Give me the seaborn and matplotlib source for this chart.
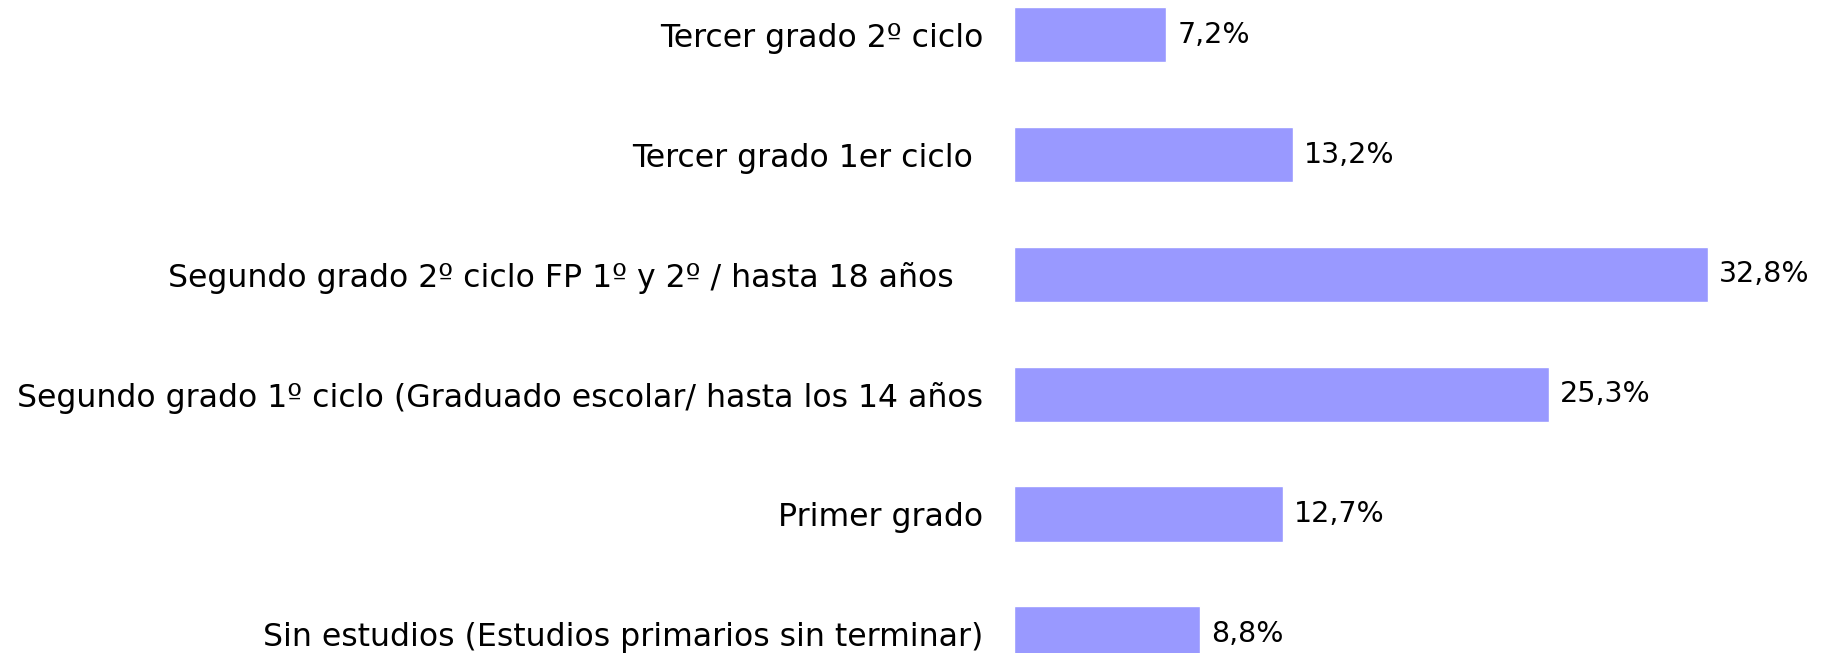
import matplotlib
matplotlib.use("Agg")
import matplotlib.pyplot as plt
import seaborn as sns
import pandas as pd

# datos (de arriba a abajo)
categorias = [
    "Tercer grado 2º ciclo",
    "Tercer grado 1er ciclo ",
    "Segundo grado 2º ciclo FP 1º y 2º / hasta 18 años   ",
    "Segundo grado 1º ciclo (Graduado escolar/ hasta los 14 años",
    "Primer grado",
    "Sin estudios (Estudios primarios sin terminar)",
]
porcentajes = [7.2, 13.2, 32.8, 25.3, 12.7, 8.8]
etiquetas = ["7,2%", "13,2%", "32,8%", "25,3%", "12,7%", "8,8%"]

df = pd.DataFrame({"nivel": categorias, "pct": porcentajes})

sns.set_theme(style="white")
plt.rcParams["font.family"] = ["DejaVu Sans"]
label_size = 22.7
value_size = 20.5

fig = plt.figure(figsize=(18.23, 6.53), dpi=100)
ax = fig.add_axes([1014 / 1823, 0.0, 1 - 1014 / 1823, 1.0])

sns.barplot(data=df, x="pct", y="nivel", order=categorias, color="#9999FF",
            saturation=1, width=0.46, orient="h", ax=ax)

ax.bar_label(ax.containers[0], labels=etiquetas, padding=8,
             fontsize=value_size, color="black")

ax.set_xlim(0, 38.25)
ax.set_ylim(5.16, -0.29)
ax.set_xlabel("")
ax.set_ylabel("")
ax.set_xticks([])
ax.tick_params(axis="y", length=0, pad=22, labelsize=label_size, labelcolor="black")
sns.despine(ax=ax, left=True, bottom=True)
ax.grid(False)

fig.savefig("out.png", dpi=100, facecolor="white")
